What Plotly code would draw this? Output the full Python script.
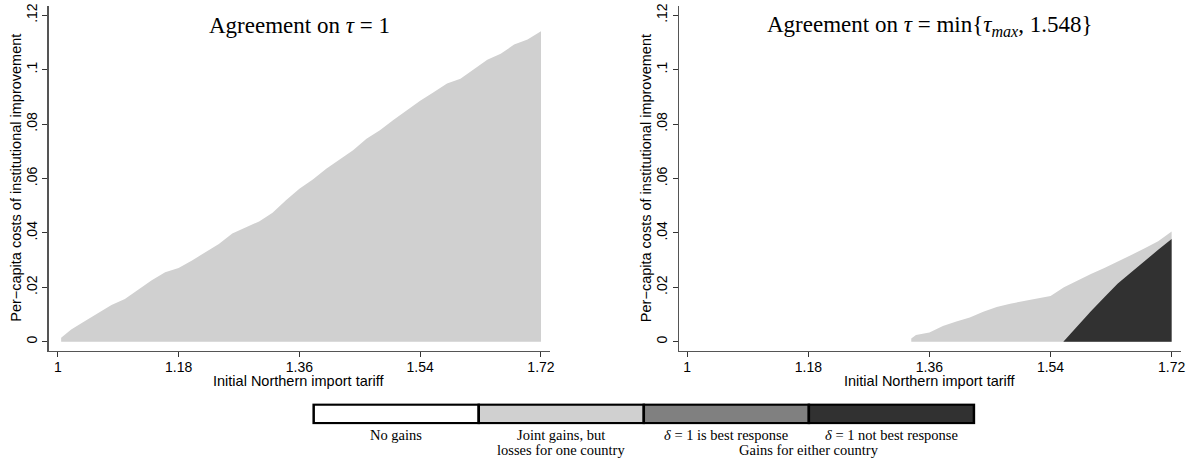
import plotly.graph_objects as go

# ---------------- data ----------------
left_x = [1.005, 1.02, 1.04, 1.06, 1.08, 1.10, 1.12, 1.14, 1.16, 1.18, 1.20, 1.22,
          1.24, 1.26, 1.28, 1.30, 1.32, 1.34, 1.36, 1.38, 1.40, 1.42, 1.44, 1.46,
          1.48, 1.50, 1.52, 1.54, 1.56, 1.58, 1.60, 1.62, 1.64, 1.66, 1.68, 1.70, 1.72]
left_joint = [0.0015, 0.0045, 0.0075, 0.0105, 0.0135, 0.0157, 0.0190, 0.0226, 0.0255,
              0.0271, 0.0299, 0.0330, 0.0359, 0.0398, 0.0421, 0.0442, 0.0474, 0.0520,
              0.0562, 0.0596, 0.0636, 0.0670, 0.0704, 0.0746, 0.0777, 0.0815, 0.0851,
              0.0886, 0.0917, 0.0949, 0.0967, 0.1002, 0.1036, 0.1058, 0.1092, 0.1111, 0.1141]

right_x = [1.333, 1.34, 1.36, 1.38, 1.40, 1.42, 1.44, 1.46, 1.48, 1.50, 1.52, 1.54,
           1.56, 1.58, 1.60, 1.62, 1.64, 1.66, 1.68, 1.70, 1.72]
right_joint = [0.0012, 0.0025, 0.0034, 0.0058, 0.0074, 0.0089, 0.0110, 0.0128, 0.0140,
               0.0150, 0.0158, 0.0168, 0.0200, 0.0226, 0.0249, 0.0271, 0.0294, 0.0319,
               0.0344, 0.0369, 0.0405]

right_dark_x = [1.559, 1.58, 1.60, 1.62, 1.64, 1.66, 1.68, 1.70, 1.72]
right_dark = [0.0, 0.0058, 0.0112, 0.0164, 0.0214, 0.0255, 0.0298, 0.0338, 0.0378]

x_ticks = [1, 1.18, 1.36, 1.54, 1.72]
x_tick_labels = ["1", "1.18", "1.36", "1.54", "1.72"]
y_ticks = [0, 0.02, 0.04, 0.06, 0.08, 0.10, 0.12]
y_tick_labels = ["0", ".02", ".04", ".06", ".08", ".1", ".12"]

legend_labels = ["No gains", "Joint gains, but", "<i>δ</i> = 1 is best response",
                 "<i>δ</i> = 1 not best response"]
legend_sub_labels = ["", "losses for one country", "", ""]
legend_group_label = "Gains for either country"

titles = ["Agreement on <i>τ</i> = 1",
          "Agreement on <i>τ</i> = min{<i>τ</i><sub><i>max</i></sub>, 1.548}"]
x_title = "Initial Northern import tariff"
y_title = "Per−capita costs of institutional improvement"

# ---------------- styles ----------------
W, H = 1199, 463
C_WHITE, C_LIGHT, C_MID, C_DARK = "#ffffff", "#d0d0d0", "#808080", "#313131"
legend_colors = [C_WHITE, C_LIGHT, C_MID, C_DARK]
SANS = "Liberation Sans, Arial, sans-serif"
SERIF = "Liberation Serif, Times New Roman, serif"


def px_x(p):
    return p / W


def px_y(p):
    return 1 - p / H


fig = go.Figure()

fig.add_trace(go.Scatter(x=left_x, y=left_joint, mode="lines", fill="tozeroy",
                         fillcolor=C_LIGHT, line=dict(width=0, color=C_LIGHT),
                         xaxis="x", yaxis="y", showlegend=False, hoverinfo="skip"))
fig.add_trace(go.Scatter(x=right_x, y=right_joint, mode="lines", fill="tozeroy",
                         fillcolor=C_LIGHT, line=dict(width=0, color=C_LIGHT),
                         xaxis="x2", yaxis="y2", showlegend=False, hoverinfo="skip"))
fig.add_trace(go.Scatter(x=right_dark_x, y=right_dark, mode="lines", fill="tozeroy",
                         fillcolor=C_DARK, line=dict(width=0, color=C_DARK),
                         xaxis="x2", yaxis="y2", showlegend=False, hoverinfo="skip"))

# legend box as stacked bars
fig.add_trace(go.Bar(x=[1] * len(legend_labels), base=list(range(len(legend_labels))),
                     y=[0] * len(legend_labels), orientation="h", width=1,
                     marker=dict(color=legend_colors, line=dict(color="black", width=2.5)),
                     xaxis="x3", yaxis="y3", showlegend=False, hoverinfo="skip"))

axis_common = dict(showgrid=False, zeroline=False, showline=True, linecolor="#555555",
                   linewidth=1.3, ticks="outside", ticklen=5, tickwidth=1,
                   tickcolor="#333333", tickfont=dict(family=SANS, size=14, color="black"))

y_dom = [px_y(350), px_y(3)]
y_range = [-0.0033, 0.1234]

fig.update_layout(
    width=W, height=H, margin=dict(l=0, r=0, t=0, b=0),
    paper_bgcolor="white", plot_bgcolor="white", barmode="overlay",
    xaxis=dict(domain=[px_x(49), px_x(552)], range=[0.9866, 1.733], anchor="y",
               tickvals=x_ticks, ticktext=x_tick_labels, ticklabelstandoff=-2,
               **axis_common),
    yaxis=dict(domain=y_dom, range=y_range, anchor="x", tickvals=y_ticks,
               ticktext=y_tick_labels, tickangle=-90, **axis_common),
    xaxis2=dict(domain=[px_x(682), px_x(1186)], range=[0.988, 1.734], anchor="y2",
                tickvals=x_ticks, ticktext=x_tick_labels, ticklabelstandoff=-2,
                **axis_common),
    yaxis2=dict(domain=y_dom, range=y_range, anchor="x2", tickvals=y_ticks,
                ticktext=y_tick_labels, tickangle=-90, **axis_common),
    xaxis3=dict(domain=[px_x(313), px_x(980)], range=[-0.012, 4.012], anchor="y3",
                visible=False, fixedrange=True),
    yaxis3=dict(domain=[px_y(424), px_y(403)], range=[-0.56, 0.56], anchor="x3",
                visible=False, fixedrange=True),
)

ann = []
centers = [(49 + 552) / 2, (682 + 1186) / 2]
for c, t in zip(centers, titles):
    ann.append(dict(text=t, x=px_x(c), y=px_y(23), xref="paper", yref="paper",
                    showarrow=False, xanchor="center", yanchor="middle",
                    font=dict(family=SERIF, size=23, color="black")))
    ann.append(dict(text=x_title, x=px_x(c), y=px_y(380), xref="paper", yref="paper",
                    showarrow=False, xanchor="center", yanchor="middle",
                    font=dict(family=SANS, size=14.5, color="black")))
for xl in [16, 649]:
    ann.append(dict(text=y_title, x=px_x(xl), y=px_y(176), xref="paper", yref="paper",
                    showarrow=False, xanchor="center", yanchor="middle", textangle=-90,
                    font=dict(family=SANS, size=14.5, color="black")))

for i, (l1, l2) in enumerate(zip(legend_labels, legend_sub_labels)):
    ann.append(dict(text=l1, x=i + 0.5, y=px_y(435), xref="x3", yref="paper",
                    showarrow=False, xanchor="center", yanchor="middle",
                    font=dict(family=SERIF, size=14.5, color="black")))
    if l2:
        ann.append(dict(text=l2, x=i + 0.5, y=px_y(450), xref="x3", yref="paper",
                        showarrow=False, xanchor="center", yanchor="middle",
                        font=dict(family=SERIF, size=14.5, color="black")))
ann.append(dict(text=legend_group_label, x=3, y=px_y(450), xref="x3", yref="paper",
                showarrow=False, xanchor="center", yanchor="middle",
                font=dict(family=SERIF, size=14.5, color="black")))

fig.update_layout(annotations=ann)
fig.write_html("out.html",
               config={"displayModeBar": False, "staticPlot": True},
               post_script="document.body.style.margin='0px';"
                           "document.body.style.overflow='hidden';")
